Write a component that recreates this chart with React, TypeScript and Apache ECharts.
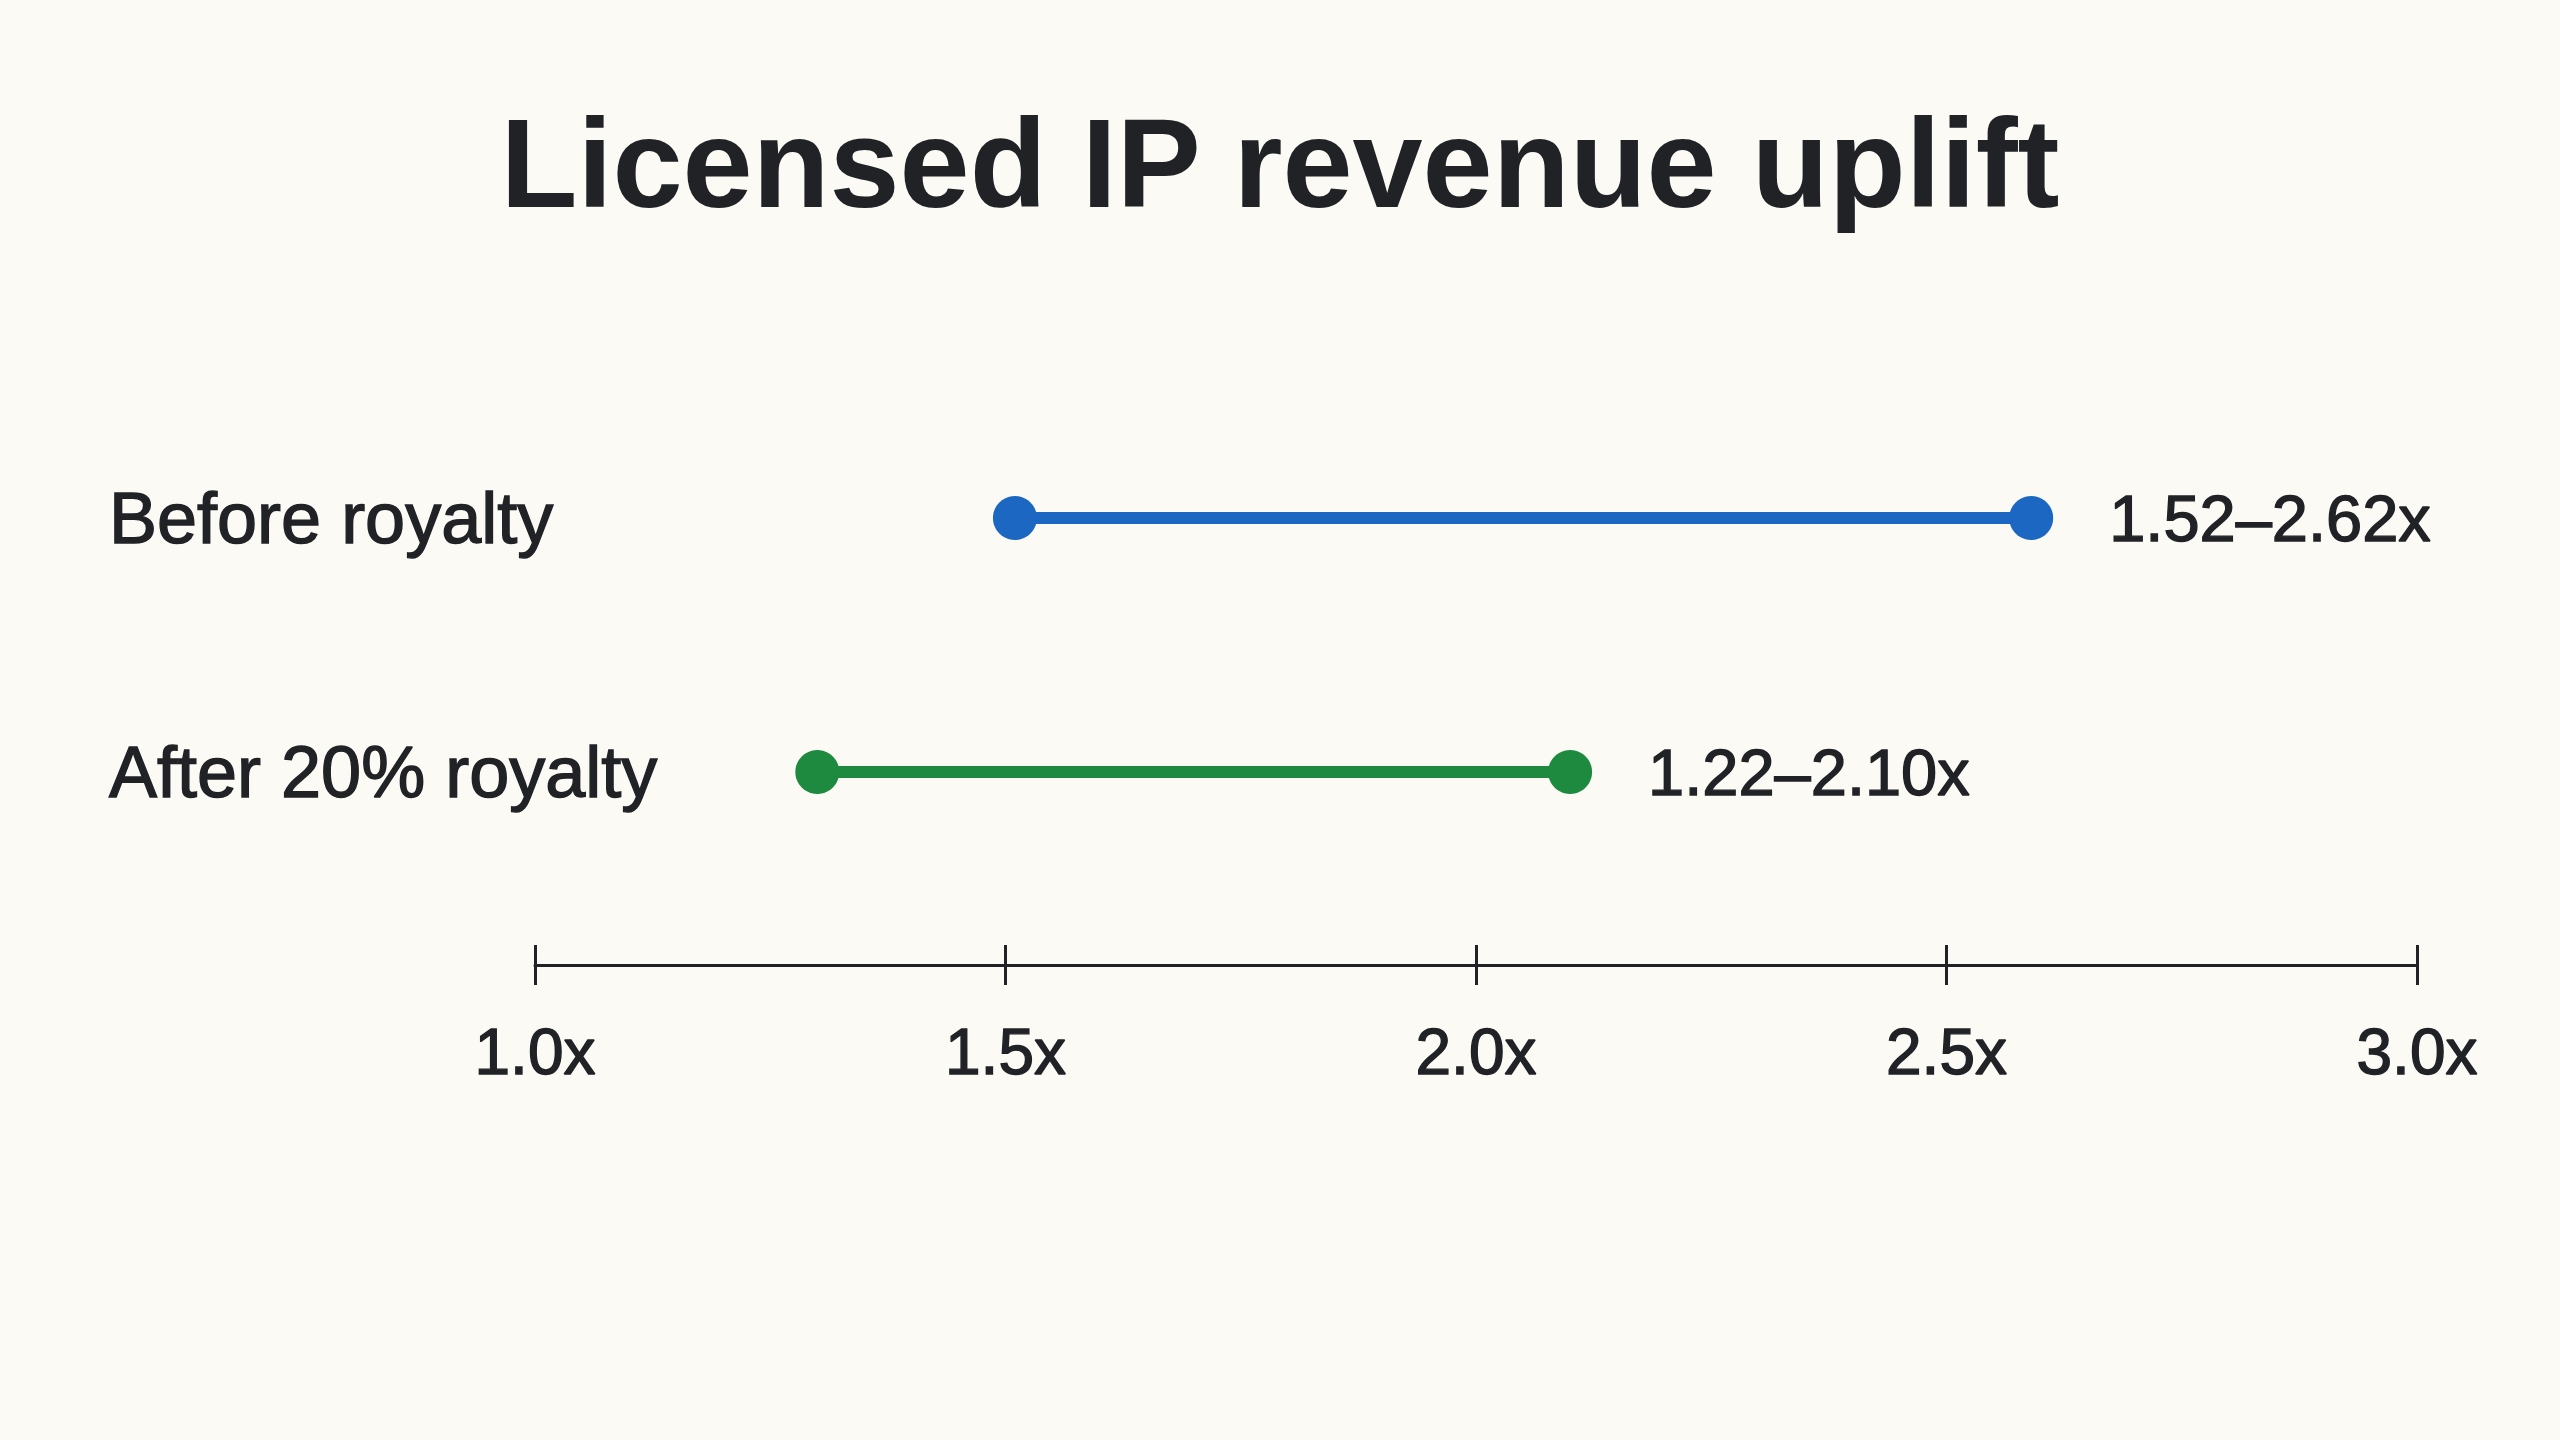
import React, { useEffect, useRef } from "react";
import * as echarts from "echarts";

const titleText = "Licensed IP revenue uplift";
const categories = ["Before royalty", "After 20% royalty"];
const lowValues = [1.51, 1.3];
const highValues = [2.59, 2.1];
const rangeLabels = ["1.52–2.62x", "1.22–2.10x"];
const seriesColors = ["#1b67c1", "#1d8a3f"];
const axisMin = 1.0;
const axisMax = 3.0;
const axisInterval = 0.5;

const FONT = "'Liberation Sans', Arial, sans-serif";
const INK = "#202226";
const heavy = { textBorderColor: INK, textBorderWidth: 1.4 };

export default function App() {
  const ref = useRef<HTMLDivElement>(null);
  useEffect(() => {
    document.body.style.margin = "0";
    if (!ref.current) return;
    const chart = echarts.init(ref.current, undefined, { renderer: "svg" });
    const series = categories.map((cat, i) => ({
      type: "line",
      name: cat,
      xAxisIndex: 0,
      yAxisIndex: 0,
      symbol: "circle",
      symbolSize: 44,
      lineStyle: { color: seriesColors[i], width: 12, cap: "butt" },
      itemStyle: { color: seriesColors[i] },
      label: { show: false },
      data: [
        { value: [lowValues[i], cat] },
        {
          value: [highValues[i], cat],
          label: {
            show: true,
            position: "right",
            distance: 56,
            formatter: () => rangeLabels[i],
            fontFamily: FONT,
            fontSize: 65,
            color: INK,
            ...heavy,
          },
        },
      ],
    }));
    const baseX = {
      type: "value",
      min: axisMin,
      max: axisMax,
      interval: axisInterval,
      position: "bottom",
      offset: 66,
      splitLine: { show: false },
    };
    chart.setOption({
      animation: false,
      backgroundColor: "#fbfaf5",
      title: {
        text: titleText,
        left: "center",
        top: 95,
        textStyle: {
          fontFamily: FONT,
          fontSize: 126,
          fontWeight: "bold",
          color: INK,
        },
      },
      grid: { left: 535, right: 143, top: 391, bottom: 541, containLabel: false },
      xAxis: [
        {
          ...baseX,
          axisLine: { show: true, lineStyle: { color: INK, width: 3 } },
          axisTick: { show: true, length: 20, lineStyle: { color: INK, width: 3 } },
          axisLabel: {
            show: true,
            margin: 55,
            fontFamily: FONT,
            fontSize: 64,
            color: INK,
            ...heavy,
            formatter: (v: number) => v.toFixed(1) + "x",
          },
        },
        {
          ...baseX,
          axisLine: { show: false },
          axisTick: { show: true, inside: true, length: 20, lineStyle: { color: INK, width: 3 } },
          axisLabel: { show: false },
        },
      ],
      yAxis: {
        type: "category",
        data: categories,
        inverse: true,
        axisLine: { show: false },
        axisTick: { show: false },
        splitLine: { show: false },
        axisLabel: {
          align: "left",
          margin: 426,
          fontFamily: FONT,
          fontSize: 72,
          color: INK,
          ...heavy,
        },
      },
      series,
    });
    return () => chart.dispose();
  }, []);
  return <div ref={ref} style={{ width: "100vw", height: "100vh" }} />;
}
